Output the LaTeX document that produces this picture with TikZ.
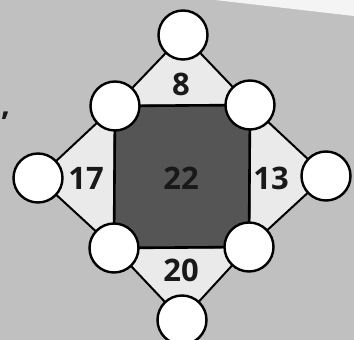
\documentclass[tikz,border=0pt]{standalone}
\usepackage{fontspec}
\setmainfont{Open Sans}
\newfontfamily\numfont{Open Sans}
\definecolor{bg}{HTML}{C0C0C0}
\definecolor{paper}{HTML}{F4F4F4}
\definecolor{tri}{HTML}{EAEAEA}
\definecolor{sq}{HTML}{555555}
\begin{document}
\begin{tikzpicture}[x=1pt,y=1pt,
  dot/.style={circle,draw=black,fill=white,line width=2.4pt,minimum size=49pt,inner sep=0pt},
  trifill/.style={fill=tri,draw=black,line width=2pt,line join=round},
  num/.style={font=\numfont\bfseries\fontsize{31}{31}\selectfont,text=black!90}]
\useasboundingbox (0,0) rectangle (354,340);
\fill[bg] (0,0) rectangle (354,340);
\fill[paper] (215,340) -- (354,340) -- (354,324) -- cycle;
% circle positions (y = 340 - pixel y)
\coordinate (cT) at (183,305);
\coordinate (cUL) at (115,234);
\coordinate (cUR) at (250,235);
\coordinate (cL) at (38,162);
\coordinate (cR) at (326,164);
\coordinate (cLL) at (114,92);
\coordinate (cLR) at (249,93);
\coordinate (cB) at (182,20);
% triangles
\draw[trifill] (cUL) -- (cT) -- (cUR) -- cycle;
\draw[trifill] (cUR) -- (cR) -- (cLR) -- cycle;
\draw[trifill] (cLR) -- (cB) -- (cLL) -- cycle;
\draw[trifill] (cLL) -- (cL) -- (cUL) -- cycle;
% square
\draw[fill=sq,draw=black,line width=2.6pt] (cUL) -- (cUR) -- (cLR) -- (cLL) -- cycle;
% circles
\node[dot] (T) at (cT) {};
\node[dot] (UL) at (cUL) {};
\node[dot] (UR) at (cUR) {};
\node[dot] (L) at (cL) {};
\node[dot] (R) at (cR) {};
\node[dot] (LL) at (cLL) {};
\node[dot] (LR) at (cLR) {};
\node[dot] (B) at (cB) {};
% numbers
\node[num] (n8) at (181,256) {8};
\node[num] (n17) at (86,162) {17};
\node[num] (n22) at (181,162) {22};
\node[num] (n13) at (271,162) {13};
\node[num] (n20) at (181,70) {20};
\node[num,anchor=west,inner sep=0pt] (cm) at (1,224) {,};
\end{tikzpicture}
\end{document}
